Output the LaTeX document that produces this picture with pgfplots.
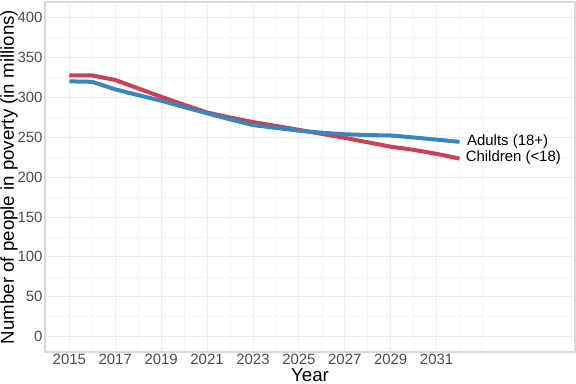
\documentclass[border=0pt]{standalone}
\usepackage{fontspec}
\setmainfont{Liberation Sans}
\usepackage{pgfplots}
\pgfplotsset{compat=1.18}
\definecolor{cred}{RGB}{208,62,82}
\definecolor{cblue}{RGB}{55,134,192}
\definecolor{gridmaj}{RGB}{235,235,235}
\definecolor{gridmin}{RGB}{245,245,245}
\definecolor{panelb}{RGB}{217,217,217}
\definecolor{ticklab}{RGB}{77,77,77}
\begin{document}
\begin{tikzpicture}
\begin{axis}[
  scale only axis,
  width=397.5pt, height=262.5pt,
  xmin=2013.94, xmax=2037.03,
  ymin=-19.2, ymax=419.2,
  xtick={2015,2017,...,2031},
  xticklabels={2015,2017,2019,2021,2023,2025,2027,2029,2031},
  minor xtick={2014,2016,...,2032,2033},
  ytick={0,50,...,400},
  minor ytick={25,75,...,375},
  grid=both,
  major grid style={gridmaj, line width=0.6pt},
  minor grid style={gridmin, line width=0.4pt},
  major tick length=0pt, minor tick length=0pt,
  axis line style={panelb, line width=0.8pt},
  tick label style={font=\fontsize{11.2}{13}\selectfont, text=ticklab},
  /pgf/number format/assume math mode=true,
  /pgf/number format/1000 sep={},
  xticklabel style={inner sep=0pt, anchor=north, yshift=-1.5pt},
  yticklabel style={inner sep=0pt, anchor=east, xshift=-1.7pt},
  xlabel={Year},
  ylabel={Number of people in poverty (in millions)},
  label style={font=\fontsize{14}{16}\selectfont},
  xlabel style={at={(axis description cs:0.5,-0.0668)}, anchor=center, inner sep=0pt},
  ylabel style={at={(axis description cs:-0.068,0.5)}, anchor=center, inner sep=0pt},
  clip=false,
]
\addplot[cred, line width=3pt, line join=round] coordinates {
(2015,327.4) (2016,327.2) (2017,321.5) (2018,311) (2019,300.5) (2020,290.5) (2021,280.8) (2022,274.5) (2023,268.8) (2024,264) (2025,259) (2026,254) (2027,249) (2028,243.5) (2029,238) (2030,234) (2031,229) (2032,223)
};
\addplot[cblue, line width=3pt, line join=round] coordinates {
(2015,319.8) (2016,319.2) (2017,309.8) (2018,302.5) (2019,295.6) (2020,287.5) (2021,279.8) (2022,272.2) (2023,265) (2024,261.5) (2025,258) (2026,255.5) (2027,253.5) (2028,252.5) (2029,252) (2030,249.5) (2031,246.8) (2032,244)
};
\node[anchor=west, font=\fontsize{11.2}{13}\selectfont, inner sep=0pt] at (axis cs:2032,244) {\hspace{5.5pt}Adults (18+)};
\node[anchor=west, font=\fontsize{11.2}{13}\selectfont, inner sep=0pt] at (axis cs:2032,224.5) {\hspace{4.5pt}Children (<18)};
\end{axis}
\pgfresetboundingbox
\path[use as bounding box] ([xshift=-33.75pt,yshift=-24pt]current axis.south west) rectangle ([xshift=0.75pt,yshift=1.5pt]current axis.north east);
\end{tikzpicture}
\end{document}
